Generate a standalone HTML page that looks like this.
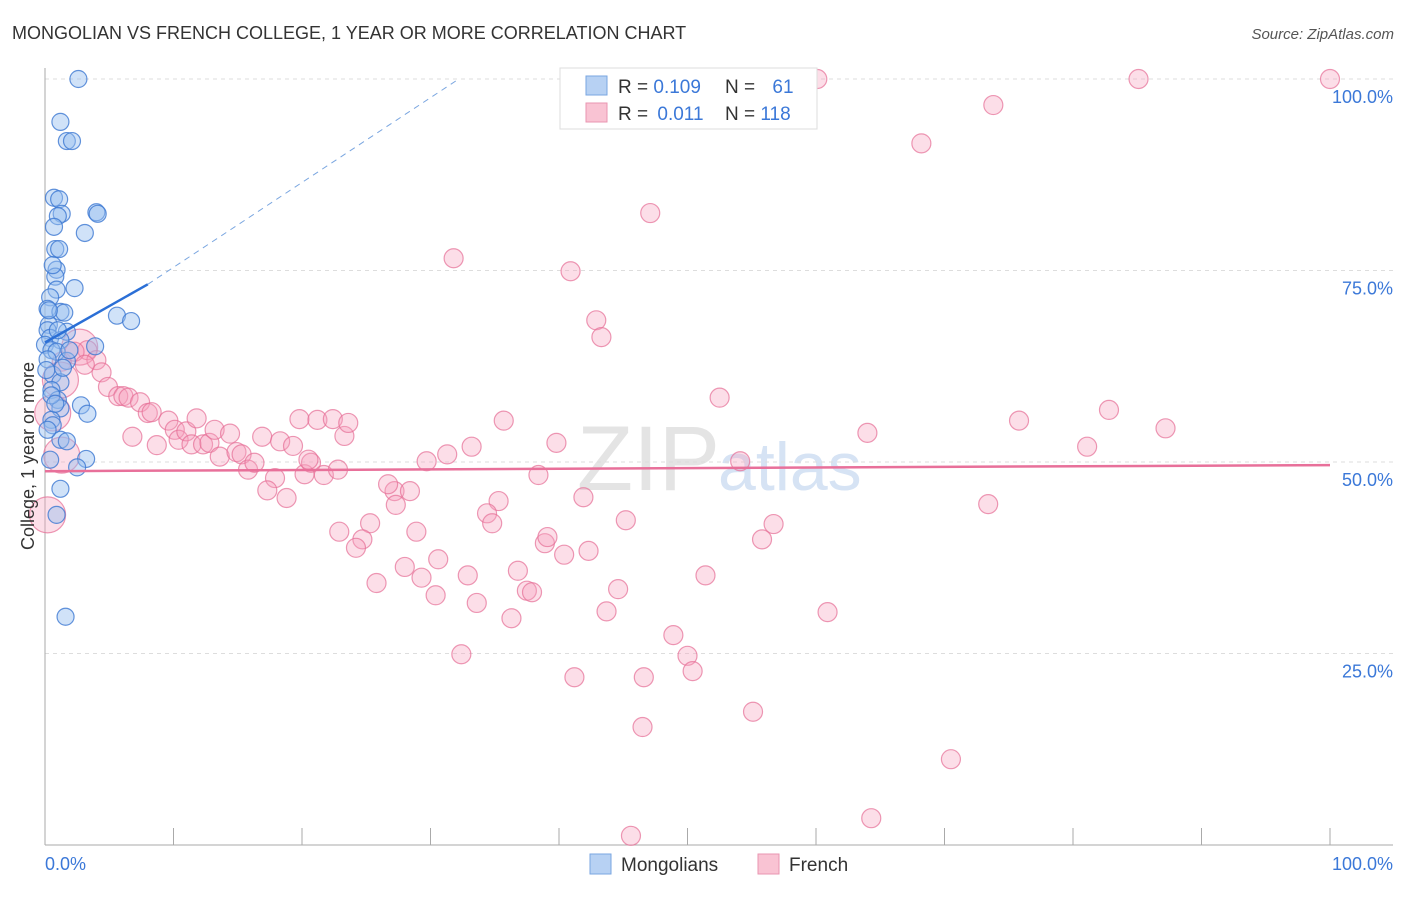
<!DOCTYPE html>
<html><head><meta charset="utf-8"><style>
body{margin:0;background:#fff;font-family:"Liberation Sans",sans-serif}
svg text{font-family:"Liberation Sans",sans-serif}
</style></head><body>
<svg id="c" width="1406" height="892" viewBox="0 0 1406 892">
<text x="12" y="39" font-size="18" fill="#333">MONGOLIAN VS FRENCH COLLEGE, 1 YEAR OR MORE CORRELATION CHART</text>
<text x="1394" y="39" font-size="15" fill="#555" text-anchor="end" font-style="italic">Source: ZipAtlas.com</text>
<text x="720" y="490" font-size="92" fill="#e4e4e4" text-anchor="end" font-family="Liberation Serif">ZIP</text>
<text x="718" y="490" font-size="68" fill="#d6e3f4">atlas</text>
<g id="grid"></g><g id="marks"></g><g id="trend"></g>
<text transform="translate(34,456) rotate(-90)" font-size="18" fill="#333" text-anchor="middle">College, 1 year or more</text>
<text x="45" y="870" font-size="18" fill="#3b78d8">0.0%</text>
<text x="1393" y="870" font-size="18" fill="#3b78d8" text-anchor="end">100.0%</text>
<g>
<rect x="560" y="68" width="257" height="61" fill="#fff" stroke="#ddd"/>
<rect x="586" y="76" width="21" height="19" fill="#b7d1f3" stroke="#7aa6e0"/>
<rect x="586" y="103" width="21" height="19" fill="#f9c3d3" stroke="#e996b0"/>
<text x="618" y="93" font-size="19" fill="#333">R = <tspan fill="#3b78d8">0.109</tspan></text>
<text x="725" y="93" font-size="19" fill="#333">N = <tspan fill="#3b78d8" dx="12">61</tspan></text>
<text x="618" y="120" font-size="19" fill="#333">R = <tspan fill="#3b78d8" dx="4">0.011</tspan></text>
<text x="725" y="120" font-size="19" fill="#333">N = <tspan fill="#3b78d8">118</tspan></text>
</g>
<g>
<rect x="590" y="854" width="21" height="20" fill="#b7d1f3" stroke="#7aa6e0"/>
<text x="621" y="871" font-size="19" fill="#333">Mongolians</text>
<rect x="758" y="854" width="21" height="20" fill="#f9c3d3" stroke="#e996b0"/>
<text x="789" y="871" font-size="19" fill="#333">French</text>
</g>
</svg>
<script>
const yTicks=[25,50,75,100];
const yTickLabels=["25.0%","50.0%","75.0%","100.0%"];
const xTicks=[0,10,20,30,40,50,60,70,80,90,100];
const blueX=[2.6,1.2,1.7,2.1,0.7,1.1,1.3,1.0,0.7,4.0,4.1,3.1,0.8,1.1,0.9,0.8,0.9,2.3,0.4,0.2,1.2,1.5,5.6,6.7,0.3,0.2,1.7,0.4,1.2,0,3.9,0.5,0.9,0.2,1.7,0.6,1.2,0.5,1.0,2.8,1.2,3.3,0.5,0.6,1.2,1.7,3.2,0.4,2.5,1.2,0.9,1.6,0.1,0.5,1.0,1.4,0.2,0.8,1.9,0.3,0.6];
const blueY=[100,94.4,91.9,91.9,84.5,84.3,82.4,82.1,80.7,82.6,82.4,79.9,77.8,77.8,75.1,74.2,72.5,72.7,71.5,70.0,69.6,69.5,69.1,68.4,67.9,67.2,67.0,66.2,65.9,65.3,65.1,64.6,64.4,63.4,63.2,61.4,60.4,59.4,58.1,57.4,57.0,56.3,55.5,54.8,52.9,52.7,50.4,50.3,49.3,46.5,43.1,29.8,62.0,58.7,67.2,62.3,54.2,57.6,64.6,69.8,75.7];
const pinkX=[60.1,85.1,100,73.8,68.2,47.1,31.8,40.9,42.9,43.3,52.5,82.8,87.2,75.8,64.0,81.1,54.1,35.7,39.8,33.2,31.3,29.7,38.4,41.9,35.3,34.4,34.8,45.2,56.7,55.8,73.4,38.9,39.1,40.4,42.3,36.8,37.5,37.9,32.9,33.6,30.4,29.3,28.0,30.6,28.9,27.2,26.7,28.4,27.3,25.3,24.7,24.2,22.9,25.8,43.7,44.6,51.4,60.9,48.9,50.0,50.4,41.2,46.6,32.4,36.3,46.5,55.1,70.5,45.6,64.3,2.7,3.3,4.0,4.4,4.9,5.7,6.1,6.5,7.4,8.0,8.3,9.6,10.1,10.4,11.0,11.8,11.4,12.3,12.8,13.2,13.6,14.4,14.9,15.3,15.8,16.3,16.9,17.9,17.3,18.3,18.8,19.3,19.8,20.2,20.7,21.2,21.7,22.4,23.3,23.6,6.8,8.7,20.5,22.8,1.3,2.3,3.1,1.2,0.6,1.3,0.2];
const pinkY=[100,100,100,96.6,91.6,82.5,76.6,74.9,68.5,66.3,58.4,56.8,54.4,55.4,53.8,52.0,50.1,55.4,52.5,52.0,51.0,50.1,48.3,45.4,44.9,43.3,42.0,42.4,41.9,39.9,44.5,39.4,40.2,37.9,38.4,35.8,33.2,33.0,35.2,31.6,32.6,34.9,36.3,37.3,40.9,46.2,47.1,46.2,44.4,42.0,39.9,38.8,40.9,34.2,30.5,33.4,35.2,30.4,27.4,24.7,22.7,21.9,21.9,24.9,29.6,15.4,17.4,11.2,1.2,3.5,65.0,64.6,63.3,61.7,59.8,58.6,58.6,58.4,57.8,56.4,56.5,55.4,54.2,52.9,54.0,55.7,52.3,52.3,52.5,54.2,50.7,53.7,51.3,51.0,49.0,49.9,53.3,47.9,46.3,52.7,45.3,52.1,55.6,48.4,49.9,55.5,48.3,55.6,53.4,55.1,53.3,52.2,50.3,49.0,63.1,64.4,62.7,60.7,56.4,50.9,43.1];
const pinkBig=[70,117,118,119,120];
const blueTrend=[0,65.6,8,73.2,32.2,100];
const pinkTrend=[0,48.8,100,49.6];
const X=v=>45+v*12.85, Y=v=>845-v*7.66;
const NS="http://www.w3.org/2000/svg";
function mk(t,a,p){const e=document.createElementNS(NS,t);for(const k in a)e.setAttribute(k,a[k]);p.appendChild(e);return e;}
const grid=document.getElementById('grid');
yTicks.forEach((t,i)=>{
 const l=mk('line',{x1:45,x2:1393,y1:Y(t),y2:Y(t),stroke:'#ddd','stroke-dasharray':'4,4'},grid);
 
 
 const tx=mk('text',{x:1393,y:Y(t)+24,'font-size':18,fill:'#3b78d8','text-anchor':'end'},grid);
 tx.textContent=yTickLabels[i];
 
 
});
mk('line',{x1:45,x2:45,y1:68,y2:845,stroke:'#aaa'},grid);
mk('line',{x1:45,x2:1393,y1:845,y2:845,stroke:'#aaa'},grid);
xTicks.forEach(t=>{
 const l=mk('line',{x1:X(t),x2:X(t),y1:828,y2:845,stroke:'#aaa'},grid);
 
 
});
const marks=document.getElementById('marks');
pinkX.forEach((x,i)=>{
 const big=pinkBig.indexOf(i)>=0;
 const c=mk('circle',{cx:X(x),cy:Y(pinkY[i]),r:big?18:9.5,fill:'rgba(245,160,190,0.35)',stroke:'rgba(230,110,150,0.7)','stroke-width':1.2},marks);
 
 
});
blueX.forEach((x,i)=>{
 const c=mk('circle',{cx:X(x),cy:Y(blueY[i]),r:8.5,fill:'rgba(150,190,240,0.45)',stroke:'rgba(60,120,210,0.8)','stroke-width':1.2},marks);
 
 
});
const tr=document.getElementById('trend');
const b1=mk('line',{x1:X(blueTrend[0]),y1:Y(blueTrend[1]),x2:X(blueTrend[2]),y2:Y(blueTrend[3]),stroke:'#2b6fd6','stroke-width':2.5},tr);


const b2=mk('line',{x1:X(blueTrend[2]),y1:Y(blueTrend[3]),x2:X(blueTrend[4]),y2:Y(blueTrend[5]),stroke:'#7aa6e0','stroke-width':1,'stroke-dasharray':'6,5'},tr);


const p1=mk('line',{x1:X(pinkTrend[0]),y1:Y(pinkTrend[1]),x2:X(pinkTrend[2]),y2:Y(pinkTrend[3]),stroke:'#e8709a','stroke-width':2.5},tr);


</script>
</body></html>
